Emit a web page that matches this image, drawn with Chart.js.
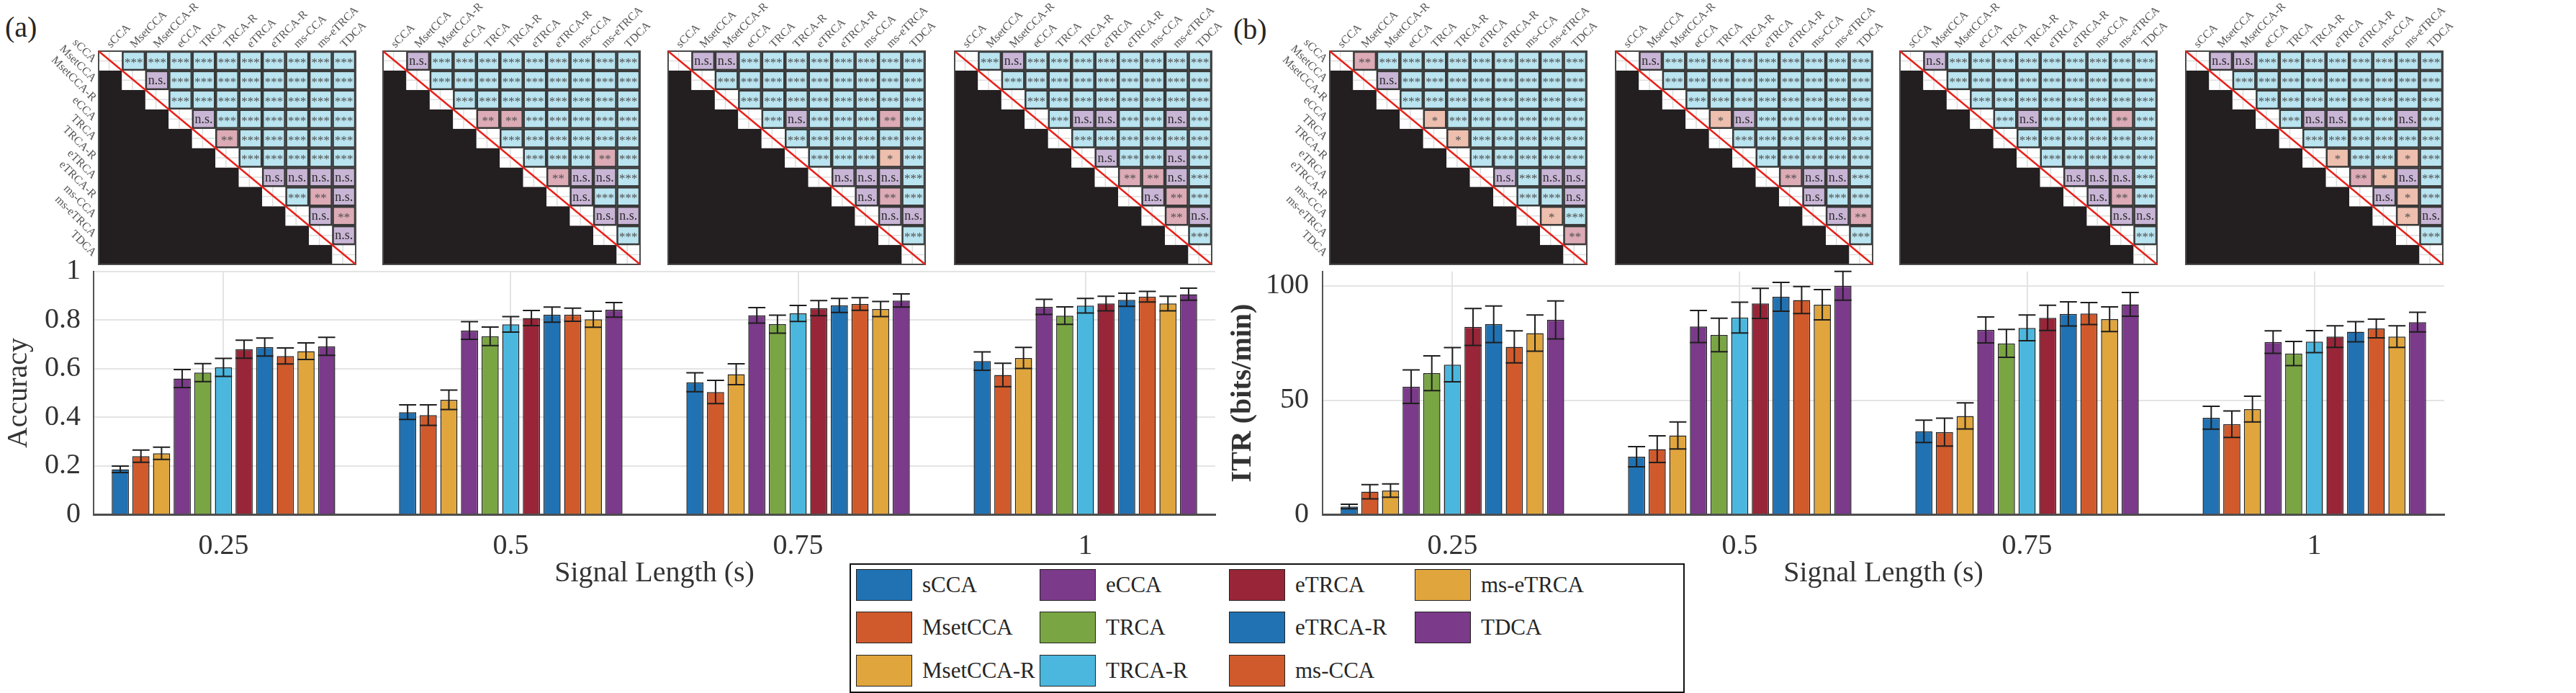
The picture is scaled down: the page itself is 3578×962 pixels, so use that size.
<!DOCTYPE html>
<html>
<head>
<meta charset="utf-8">
<script src="https://cdn.jsdelivr.net/npm/chart.js@4.4.0/dist/chart.umd.min.js"></script>
<style>
html, body { margin: 0; padding: 0; background: #fff; }
#fig { position: relative; width: 3578px; height: 962px; overflow: hidden; font-family: "Liberation Serif", "Times New Roman", serif; }
#fig canvas { position: absolute; }
.tag { position: absolute; font-size: 40px; line-height: 40px; color: #262626; }
#legend { position: absolute; left: 1180px; top: 782px; width: 1160px; height: 180px; border: 2px solid #111; box-sizing: border-box; background: #fff; }
.leg-item { position: absolute; height: 46px; display: flex; align-items: center; font-size: 31px; color: #262626; white-space: nowrap; }
.leg-sw { width: 78px; height: 44px; border: 1.5px solid #222; box-sizing: border-box; margin-right: 14px; }
</style>
</head>
<body>
<div id="fig">
  <div class="tag" style="left:7px;top:18px;">(a)</div>
  <div class="tag" style="left:1713px;top:21px;">(b)</div>
  <div id="legend"></div>
</div>
<script>
// ---- data ----
const methods = ['sCCA', 'MsetCCA', 'MsetCCA-R', 'eCCA', 'TRCA', 'TRCA-R', 'eTRCA', 'eTRCA-R', 'ms-CCA', 'ms-eTRCA', 'TDCA'];
const signalLengths = [0.25, 0.5, 0.75, 1];
const xTickLabels = ['0.25', '0.5', '0.75', '1'];

// rows = methods, columns = signal lengths
const accMean = [
  [0.186, 0.421, 0.544, 0.631],
  [0.240, 0.409, 0.504, 0.574],
  [0.252, 0.472, 0.577, 0.644],
  [0.559, 0.757, 0.819, 0.854],
  [0.584, 0.733, 0.783, 0.818],
  [0.605, 0.782, 0.827, 0.859],
  [0.680, 0.808, 0.849, 0.868],
  [0.689, 0.822, 0.860, 0.883],
  [0.652, 0.822, 0.866, 0.896],
  [0.672, 0.803, 0.845, 0.868],
  [0.692, 0.842, 0.880, 0.906]
];
const accErr = [
  [0.013, 0.030, 0.039, 0.038],
  [0.025, 0.042, 0.048, 0.048],
  [0.025, 0.040, 0.043, 0.043],
  [0.037, 0.036, 0.032, 0.031],
  [0.037, 0.038, 0.037, 0.036],
  [0.037, 0.032, 0.033, 0.030],
  [0.037, 0.031, 0.031, 0.030],
  [0.037, 0.031, 0.029, 0.027],
  [0.033, 0.027, 0.026, 0.022],
  [0.034, 0.033, 0.031, 0.030],
  [0.037, 0.030, 0.027, 0.025]
];
const itrMean = [
  [3.5, 25.3, 36.4, 42.3],
  [10.0, 28.6, 36.0, 39.5],
  [10.5, 34.6, 43.1, 46.1],
  [55.9, 82.2, 80.7, 75.4],
  [61.8, 78.5, 74.8, 70.4],
  [65.5, 86.1, 81.6, 75.6],
  [82.0, 92.3, 86.0, 77.8],
  [83.2, 95.2, 87.7, 79.9],
  [73.3, 93.8, 87.9, 81.3],
  [79.3, 91.7, 85.4, 77.8],
  [85.1, 100.0, 91.9, 84.1]
];
const itrErr = [
  [1.0, 4.4, 4.9, 5.0],
  [3.1, 5.8, 6.1, 5.8],
  [2.9, 5.9, 5.7, 5.6],
  [7.3, 7.0, 5.7, 4.9],
  [7.6, 7.3, 6.1, 5.3],
  [7.5, 6.7, 5.6, 4.8],
  [8.1, 6.6, 5.5, 4.7],
  [8.0, 6.3, 5.3, 4.4],
  [7.0, 5.9, 4.8, 4.1],
  [7.9, 6.6, 5.4, 4.7],
  [8.3, 6.3, 5.2, 4.3]
];
const accTicks = [0, 0.2, 0.4, 0.6, 0.8, 1];
const accTickLabels = ['0', '0.2', '0.4', '0.6', '0.8', '1'];
const itrTicks = [0, 50, 100];
const itrTickLabels = ['0', '50', '100'];

// significance, upper triangle row by row: 3 = ***, 2 = **, 1 = *, 0 = n.s.
const sigAcc025 = ['3333333333', '033333333', '33333333', '0333333', '233333', '33333', '0000', '320', '02', '0'];
const sigAcc050 = ['0333333333', '333333333', '33333333', '2233333', '333333', '33323', '2003', '033', '00', '3'];
const sigAcc075 = ['0033333333', '333333333', '33333333', '3033323', '333333', '33313', '0003', '023', '00', '3'];
const sigAcc100 = ['3033333333', '333333333', '33333333', '3003303', '333333', '03303', '2203', '023', '20', '3'];
const sigItr025 = ['2333333333', '033333333', '33333333', '1333333', '133333', '33333', '0300', '330', '13', '2'];
const sigItr050 = ['0333333333', '333333333', '33333333', '1033333', '333333', '33333', '2003', '033', '02', '3'];
const sigItr075 = ['0333333333', '333333333', '33333333', '3033323', '333333', '33333', '0003', '023', '00', '3'];
const sigItr100 = ['0033333333', '333333333', '33333333', '3003303', '333333', '13313', '2103', '013', '10', '3'];
const sigText = { 3: '***', 2: '**', 1: '*', 0: 'n.s.' };

// ---- styles ----
const barColors = ['#2072b3', '#d05a2c', '#e0a53c', '#7b3a8a', '#7aa543', '#4bb7de', '#982638', '#2072b3', '#d05a2c', '#e0a53c', '#7b3a8a'];
const sigColors = { 3: '#b9e4f0', 2: '#dcabb5', 1: '#eebfae', 0: '#c9b5d6' };
const FONT = '"Liberation Serif", "Times New Roman", serif';
const TXT = '#333333';

const fig = document.getElementById('fig');
function addCanvas(left, top, w, h) {
  const c = document.createElement('canvas');
  c.width = w; c.height = h;
  c.style.left = left + 'px'; c.style.top = top + 'px';
  c.style.width = w + 'px'; c.style.height = h + 'px';
  fig.appendChild(c);
  return c;
}

// error bars drawn on top of the bars
const errorBars = {
  id: 'errorBars',
  afterDatasetsDraw(chart) {
    const ctx = chart.ctx;
    const y = chart.scales.y;
    chart.data.datasets.forEach((ds, i) => {
      chart.getDatasetMeta(i).data.forEach((bar, j) => {
        const v = ds.data[j].y, e = ds.errors[j];
        const top = y.getPixelForValue(v + e), bot = y.getPixelForValue(v - e);
        const half = bar.width / 2;
        ctx.save();
        ctx.strokeStyle = '#1e1e1e';
        ctx.lineWidth = 2;
        ctx.beginPath();
        ctx.moveTo(bar.x, top); ctx.lineTo(bar.x, bot);
        ctx.moveTo(bar.x - half, top); ctx.lineTo(bar.x + half, top);
        ctx.moveTo(bar.x - half, bot); ctx.lineTo(bar.x + half, bot);
        ctx.stroke();
        ctx.restore();
      });
    });
  }
};

function barChart(canvas, cfg) {
  return new Chart(canvas, {
    type: 'bar',
    data: {
      datasets: methods.map((m, i) => ({
        label: m,
        data: signalLengths.map((x, j) => ({ x: x, y: cfg.mean[i][j] })),
        errors: cfg.err[i],
        backgroundColor: barColors[i],
        borderColor: '#232323',
        borderWidth: 1.5,
        categoryPercentage: 0.79,
        barPercentage: 0.83
      }))
    },
    options: {
      responsive: false,
      animation: false,
      devicePixelRatio: 1,
      layout: { padding: { top: 36.7, right: cfg.padRight, bottom: 0, left: 0 } },
      plugins: { legend: { display: false }, tooltip: { enabled: false } },
      scales: {
        x: {
          type: 'linear',
          min: 0.137, max: 1.113,
          offset: false,
          afterBuildTicks: s => { s.ticks = signalLengths.map(v => ({ value: v })); },
          afterFit: s => { s.height = 115.7; s.paddingLeft = 0; s.paddingRight = 0; },
          ticks: {
            callback: (v, i) => xTickLabels[i],
            font: { family: FONT, size: 40 }, color: TXT, padding: 20, maxRotation: 0, autoSkip: false
          },
          grid: { offset: false, color: '#e4e4e4', lineWidth: 2, drawTicks: false },
          border: { display: true, color: '#4d4d4d', width: 3 },
          title: { display: true, text: 'Signal Length (s)', font: { family: FONT, size: 40 }, color: TXT, padding: { top: 0, bottom: 10 } }
        },
        y: {
          min: 0, max: cfg.yMax,
          afterBuildTicks: s => { s.ticks = cfg.ticks.map(v => ({ value: v })); },
          afterFit: s => { s.width = cfg.axisWidth; s.paddingTop = 0; s.paddingBottom = 0; },
          ticks: {
            callback: (v, i) => cfg.tickLabels[i],
            font: { family: FONT, size: 40 }, color: TXT, padding: cfg.tickPad
          },
          grid: { color: '#e4e4e4', lineWidth: 2, drawTicks: false },
          border: { display: true, color: '#555555', width: 2 },
          title: { display: true, text: cfg.title, font: { family: FONT, size: 40, weight: cfg.titleWeight }, color: TXT, padding: { top: cfg.titlePad, bottom: 0 } }
        }
      }
    },
    plugins: [errorBars]
  });
}

// significance matrix drawn cell by cell through the chart scales
const sigMatrix = {
  id: 'sigMatrix',
  afterDatasetsDraw(chart, args, o) {
    const ctx = chart.ctx;
    const x = chart.scales.x, y = chart.scales.y;
    const n = methods.length;
    const px = c => x.getPixelForValue(c);
    const py = r => y.getPixelForValue(r);
    ctx.save();
    // lower triangle
    ctx.fillStyle = '#231f20';
    ctx.beginPath();
    ctx.moveTo(px(0), py(1));
    for (let r = 1; r < n; r++) { ctx.lineTo(px(r), py(r)); ctx.lineTo(px(r), py(r + 1)); }
    ctx.lineTo(px(0), py(n));
    ctx.closePath();
    ctx.fill();
    // diagonal cells
    for (let d = 0; d < n; d++) {
      const x0 = px(d), x1 = px(d + 1), y0 = py(d), y1 = py(d + 1);
      ctx.fillStyle = '#ffffff';
      ctx.fillRect(x0, y0, x1 - x0, y1 - y0);
      ctx.strokeStyle = '#dddddd'; ctx.lineWidth = 1.5;
      ctx.beginPath();
      ctx.moveTo(px(d + 0.45), y0); ctx.lineTo(px(d + 0.45), y1);
      ctx.moveTo(x0, py(d + 0.5)); ctx.lineTo(x1, py(d + 0.5));
      ctx.stroke();
    }
    // upper cells
    o.rows.forEach((row, r) => {
      row.split('').forEach((code, k) => {
        const c = r + 1 + k;
        const x0 = px(c), x1 = px(c + 1), y0 = py(r), y1 = py(r + 1);
        ctx.fillStyle = sigColors[code];
        ctx.fillRect(x0, y0, x1 - x0, y1 - y0);
        ctx.strokeStyle = '#383838'; ctx.lineWidth = 2.5;
        ctx.strokeRect(x0 + 1, y0 + 1, x1 - x0 - 2, y1 - y0 - 2);
        const label = sigText[code];
        ctx.textAlign = 'center'; ctx.textBaseline = 'middle';
        if (code === '0') {
          ctx.fillStyle = '#2e2e2e';
          ctx.font = '18px ' + FONT;
          ctx.fillText(label, (x0 + x1) / 2, (y0 + y1) / 2 + 1);
        } else {
          ctx.fillStyle = '#4f4f4f';
          ctx.font = '17px ' + FONT;
          ctx.fillText(label, (x0 + x1) / 2, (y0 + y1) / 2 + 3);
        }
      });
    });
    // outline + red diagonal
    ctx.strokeStyle = '#4a4a4a'; ctx.lineWidth = 2;
    ctx.strokeRect(px(0), py(0), px(n) - px(0), py(n) - py(0));
    ctx.strokeStyle = '#e8221b'; ctx.lineWidth = 2.5;
    ctx.beginPath(); ctx.moveTo(px(0), py(0)); ctx.lineTo(px(n), py(n)); ctx.stroke();
    // method labels
    ctx.fillStyle = '#555555';
    ctx.font = '16px ' + FONT;
    ctx.textBaseline = 'middle';
    methods.forEach((m, c) => {
      ctx.save();
      ctx.translate(px(c + 0.5) - 2, py(0) - 7);
      ctx.rotate(-Math.PI / 4);
      ctx.textAlign = 'left';
      ctx.fillText(m, 0, 0);
      ctx.restore();
      if (o.showRows) {
        ctx.save();
        ctx.translate(px(0) - 6, py(c + 0.5));
        ctx.rotate(Math.PI / 4);
        ctx.textAlign = 'right';
        ctx.fillText(m, 0, 0);
        ctx.restore();
      }
    });
    ctx.restore();
  }
};

function matrixChart(left, rows, showRows) {
  const padL = 90, padR = 70, top = 71, h = 296, w = 357;
  const canvas = addCanvas(left - padL, 0, padL + w + padR, top + h + 5);
  return new Chart(canvas, {
    type: 'scatter',
    data: { datasets: [{ data: [], pointRadius: 0 }] },
    options: {
      responsive: false,
      animation: false,
      devicePixelRatio: 1,
      layout: { padding: { left: padL, right: padR, top: top, bottom: 5 } },
      plugins: { legend: { display: false }, tooltip: { enabled: false }, sigMatrix: { rows: rows, showRows: showRows } },
      scales: {
        x: { type: 'linear', min: 0, max: methods.length, display: false },
        y: { type: 'linear', min: 0, max: methods.length, reverse: true, display: false }
      }
    },
    plugins: [sigMatrix]
  });
}

// ---- panel (a) ----
barChart(addCanvas(0, 340, 1720, 490), {
  mean: accMean, err: accErr, yMax: 1, ticks: accTicks, tickLabels: accTickLabels,
  title: 'Accuracy', titleWeight: 'normal', titlePad: 2, axisWidth: 130, tickPad: 18, padRight: 32
});
[sigAcc025, sigAcc050, sigAcc075, sigAcc100].forEach((rows, k) => {
  matrixChart([137, 532, 928, 1326][k], rows, k === 0);
});

// ---- panel (b) ----
barChart(addCanvas(1700, 340, 1720, 490), {
  mean: itrMean, err: itrErr, yMax: 106.3, ticks: itrTicks, tickLabels: itrTickLabels,
  title: 'ITR (bits/min)', titleWeight: 'bold', titlePad: 3, axisWidth: 137, tickPad: 19, padRight: 25
});
[sigItr025, sigItr050, sigItr075, sigItr100].forEach((rows, k) => {
  matrixChart([1847, 2244, 2639, 3036][k], rows, k === 0);
});

// ---- legend (column-major, 3 rows) ----
const legend = document.getElementById('legend');
const legCols = [7, 262, 525, 783];
const legRows = [5, 64, 124];
methods.forEach((m, i) => {
  const item = document.createElement('div');
  item.className = 'leg-item';
  item.style.left = legCols[Math.floor(i / 3)] + 'px';
  item.style.top = legRows[i % 3] + 'px';
  const sw = document.createElement('div');
  sw.className = 'leg-sw';
  sw.style.background = barColors[i];
  item.appendChild(sw);
  item.appendChild(document.createTextNode(m));
  legend.appendChild(item);
});
</script>
</body>
</html>
